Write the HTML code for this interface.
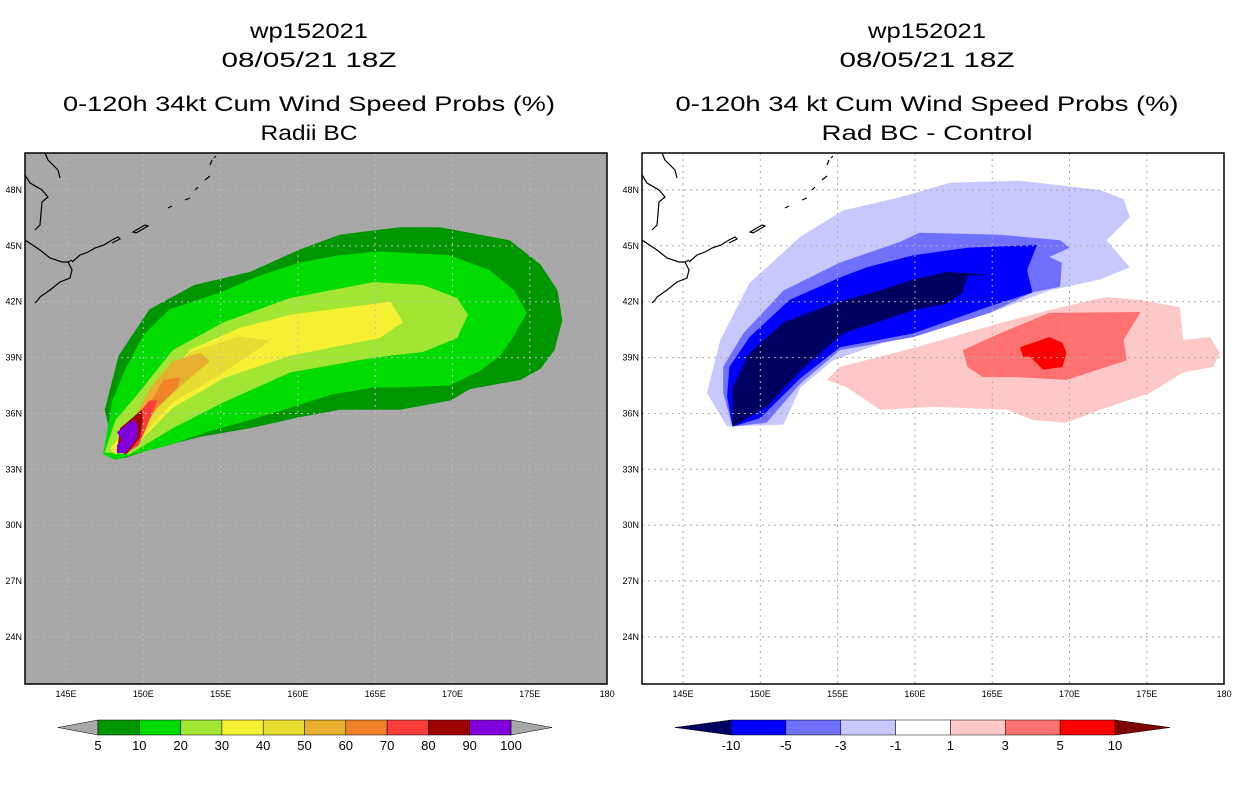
<!DOCTYPE html>
<html><head><meta charset="utf-8"><style>
body{margin:0;background:#fff;}
svg text{font-family:"Liberation Sans",sans-serif;}
</style></head><body>
<svg id="c" width="1236" height="800" xmlns="http://www.w3.org/2000/svg">
<defs>
<clipPath id="clipL"><rect x="25" y="153" width="582" height="531"/></clipPath>
<clipPath id="clipR"><rect x="642" y="153" width="582" height="531"/></clipPath>
</defs>
<g font-size="21" text-anchor="middle" fill="#000">
<text x="309" y="38" textLength="118" lengthAdjust="spacingAndGlyphs">wp152021</text>
<text x="309" y="67" textLength="175" lengthAdjust="spacingAndGlyphs">08/05/21 18Z</text>
<text x="309" y="111" textLength="492" lengthAdjust="spacingAndGlyphs">0-120h 34kt Cum Wind Speed Probs (%)</text>
<text x="309" y="140" textLength="97" lengthAdjust="spacingAndGlyphs">Radii BC</text>
</g>
<g font-size="21" text-anchor="middle" fill="#000">
<text x="927" y="38" textLength="118" lengthAdjust="spacingAndGlyphs">wp152021</text>
<text x="927" y="67" textLength="175" lengthAdjust="spacingAndGlyphs">08/05/21 18Z</text>
<text x="927" y="111" textLength="503" lengthAdjust="spacingAndGlyphs">0-120h 34 kt Cum Wind Speed Probs (%)</text>
<text x="927" y="140" textLength="211" lengthAdjust="spacingAndGlyphs">Rad BC - Control</text>
</g>
<rect x="25" y="153" width="582" height="531" fill="#a8a8a8"/>
<rect x="642" y="153" width="582" height="531" fill="#fff"/>
<g id="gL" clip-path="url(#clipL)"></g>
<g id="gR" clip-path="url(#clipR)"></g>
<g id="axes"></g>
<g id="cbar"></g>
</svg>
<script>
const lonTicks=[145,150,155,160,165,170,175,180];
const lonLabels=["145E","150E","155E","160E","165E","170E","175E","180"];
const latTicks=[24,27,30,33,36,39,42,45,48];
const latLabels=["24N","27N","30N","33N","36N","39N","42N","45N","48N"];
const leftLevels=["5","10","20","30","40","50","60","70","80","90","100"];
const leftColors=["#009600","#00dc00","#a0e632","#f5f032","#e6dc32","#e6af2d","#f08228","#fa3c3c","#a00000","#8200dc"];
const rightLevels=["-10","-5","-3","-1","1","3","5","10"];
const rightColors=["#0000ff","#7070ff","#c8c8ff","#ffffff","#ffc8c8","#ff7070","#ff0000"];
const leftContours=[
 [[148.2,33.7],[147.5,36.2],[148.4,39.1],[150.4,41.6],[153.3,42.9],[156.9,43.6],[160.1,44.8],[162.7,45.6],[166.6,46.0],[169.2,46.0],[173.7,45.3],[175.7,44.0],[176.8,42.6],[177.1,41.0],[176.6,39.4],[175.7,38.4],[174.4,37.8],[171.1,37.3],[169.9,36.7],[166.6,36.2],[162.7,36.2],[160.1,35.8],[156.9,35.2],[153.7,34.75],[150.4,34.05],[148.8,33.6]],
 [[147.4,33.8],[148.0,36.7],[148.8,38.3],[150.0,40.2],[151.7,41.6],[155.0,42.5],[157.5,43.4],[160.1,44.1],[162.7,44.5],[165.3,44.7],[169.8,44.5],[172.4,43.7],[174.0,42.6],[174.8,41.4],[174.0,40.2],[173.1,39.1],[171.8,38.3],[169.8,37.5],[166.6,37.4],[164.9,37.4],[162.1,37.0],[159.5,36.3],[156.9,35.65],[154.1,35.0],[151.7,34.3],[149.8,33.9],[148.2,33.5]],
 [[147.5,33.9],[148.2,35.65],[149.6,37.0],[151.9,39.4],[155.2,40.9],[159.5,42.2],[164.9,43.06],[168.1,42.9],[170.3,42.2],[171.0,41.3],[170.3,40.05],[168.1,39.3],[164.9,39.0],[159.5,38.2],[155.2,36.6],[151.9,35.2],[149.1,33.8]],
 [[147.85,34.1],[149.8,36.1],[153.0,39.4],[156.25,40.6],[159.5,41.3],[166.0,42.0],[166.8,40.9],[165.3,40.05],[159.5,39.1],[155.2,37.9],[151.9,36.3],[149.3,34.1],[148.2,33.8]],
 [[148.2,34.0],[150.4,36.7],[153.0,39.3],[156.25,40.15],[158.2,39.9],[155.2,38.2],[151.9,36.6],[149.6,34.5],[148.4,33.8]],
 [[148.4,34.1],[150.4,37.3],[151.9,38.8],[153.7,39.25],[154.3,38.8],[153.0,37.9],[150.9,36.3],[149.6,34.85],[148.6,33.9]],
 [[148.5,34.3],[149.8,35.65],[151.3,37.8],[152.4,37.95],[152.2,37.4],[150.9,36.3],[149.8,34.95],[148.8,33.9]],
 [[148.4,34.1],[149.1,35.4],[150.4,36.7],[150.9,36.7],[150.4,35.65],[149.7,34.3],[148.8,33.8]],
 [[148.3,34.0],[148.5,35.2],[149.9,36.2],[149.95,35.65],[149.8,34.7],[148.9,33.8]],
 [[148.3,35.0],[149.3,35.65],[149.65,35.4],[149.6,34.7],[148.9,33.9],[148.3,33.85],[148.3,34.3],[148.6,34.55]]
];
const leftContourColors=["#009600","#00dc00","#a0e632","#f5f032","#e6dc32","#e6af2d","#f08228","#fa3c3c","#a00000","#8200dc"];
const rightContours=[
 [[146.55,37.1],[147.85,35.3],[151.5,35.4],[152.6,37.4],[154.7,38.85],[159.0,40.1],[164.85,41.4],[168.7,42.6],[172.0,43.2],[173.9,43.85],[172.4,45.3],[173.9,46.55],[173.5,47.5],[172.0,48.0],[166.8,48.5],[162.3,48.4],[159.0,47.6],[155.35,46.9],[152.6,45.5],[149.3,43.0],[147.4,39.9]],
 [[147.6,37.1],[148.2,35.3],[150.4,35.5],[152.6,37.6],[155.15,39.4],[159.9,40.1],[164.85,41.4],[167.6,42.5],[169.4,42.8],[169.5,44.1],[168.7,44.4],[170.0,44.9],[169.4,45.3],[165.5,45.6],[160.3,45.7],[159.0,45.2],[155.15,44.1],[151.5,42.6],[148.9,40.3],[147.6,38.5]],
 [[147.85,36.9],[148.2,35.3],[150.0,35.75],[152.6,37.9],[155.15,39.55],[159.9,40.3],[164.65,41.7],[167.6,42.5],[167.25,43.7],[167.9,45.05],[163.4,44.9],[159.9,44.5],[156.9,43.85],[155.15,43.3],[151.9,42.1],[149.3,40.1],[148.0,38.5]],
 [[148.2,35.3],[150.4,36.35],[152.6,38.3],[155.35,40.3],[159.9,41.55],[162.1,41.9],[163.1,42.5],[163.4,43.4],[164.85,43.45],[162.1,43.6],[159.9,43.2],[157.3,42.5],[154.7,41.9],[151.5,40.9],[149.3,39.25],[148.2,37.4]],
 [[154.3,37.8],[155.15,38.5],[160.1,39.55],[165.5,40.85],[168.7,41.55],[171.5,42.1],[172.4,42.25],[174.6,42.1],[177.15,41.7],[177.35,39.95],[179.1,40.1],[179.7,39.25],[179.3,38.5],[177.35,38.2],[175.2,37.1],[172.0,36.2],[169.8,35.5],[167.6,35.65],[165.95,36.2],[161.2,36.35],[157.75,36.2],[155.6,37.4]],
 [[163.1,39.4],[165.5,40.3],[168.7,41.4],[174.6,41.45],[173.5,39.95],[173.7,38.85],[169.8,37.8],[166.6,37.95],[164.4,37.95],[163.4,38.5]],
 [[166.8,39.55],[168.7,40.1],[169.55,39.8],[169.8,39.25],[169.55,38.5],[168.3,38.35],[167.45,39.05],[167.0,39.05]]
];
const rightContourColors=["#c8c8ff","#7070ff","#0000ff","#000060","#ffc8c8","#ff7070","#ff0000"];

const NS="http://www.w3.org/2000/svg";
const pxPerLon=15.46,pxPerLat=18.62;
function xL(lon){return 66+(lon-145)*pxPerLon;}
function xR(lon){return 683+(lon-145)*pxPerLon;}
function yM(lat){return 190+(48-lat)*pxPerLat;}
function mk(tag,attrs,parent){const e=document.createElementNS(NS,tag);for(const k in attrs)e.setAttribute(k,attrs[k]);parent.appendChild(e);return e;}
const gL=document.getElementById('gL'),gR=document.getElementById('gR'),ax=document.getElementById('axes'),cb=document.getElementById('cbar');
function poly(parent,pts,xf,color,i,prefix){
 const p=mk('polygon',{points:pts.map(q=>xf(q[0]).toFixed(1)+','+yM(q[1]).toFixed(1)).join(' '),fill:color},parent);
 
 
}
leftContours.forEach((c,i)=>poly(gL,c,xL,leftContourColors[i],i,'left'));
rightContours.forEach((c,i)=>poly(gR,c,xR,rightContourColors[i],i,'right'));
[[gL,xL,25,'#bdbdbd'],[gR,xR,642,'#aaaaaa']].forEach(([g,xf,x0,col])=>{
 lonTicks.forEach(l=>{const ln=mk('line',{x1:xf(l),x2:xf(l),y1:153,y2:684,stroke:col,'stroke-dasharray':'2,4'},g);
  
  });
 latTicks.forEach(l=>{const ln=mk('line',{x1:x0,x2:x0+582,y1:yM(l),y2:yM(l),stroke:col,'stroke-dasharray':'2,4'},g);
  
  });
});
const coast="M45,153 L48,160 L58,170 L60,178 M25,175 L30,183 L42,190 L48,197 L42,202 L40,225 L35,230 M25,240 L40,250 L50,258 L62,262 L68,262 L72,260 M68,262 L72,270 L70,278 L60,282 L50,290 L40,297 L38,300 L35,303 M72,262 L80,255 L88,252 L95,248 L104,245 L112,240 L118,237 L120,239 L112,243 M133,232 L145,225 L148,226 L136,233 Z M168,208 L172,206 M185,200 L190,198 M195,190 L198,187 M205,180 L210,176 M210,165 L212,160 M214,158 L216,156";
[[gL,0],[gR,617]].forEach(([g,dx])=>{const p=mk('path',{d:coast,fill:'none',stroke:'#000','stroke-width':1.2,transform:'translate('+dx+',0)'},g);
 
 });
[[25,xL],[642,xR]].forEach(([x0,xf])=>{
 const f=mk('rect',{x:x0,y:153,width:582,height:531,fill:'none',stroke:'#000','stroke-width':1.5},ax);
 
 
 lonTicks.forEach((l,i)=>{const t=mk('text',{x:xf(l),y:697,'font-size':9,'text-anchor':'middle'},ax);t.textContent=lonLabels[i];
  
  });
 latTicks.forEach((l,i)=>{const t=mk('text',{x:x0-3,y:yM(l)+3,'font-size':9,'text-anchor':'end'},ax);t.textContent=latLabels[i];
  
  });
});
function colorbar(x0,x1,leftTri,rightTri,colors,levels,tl,tr,prefix){
 const n=colors.length,w=(x1-x0)/n,y0=720,h=15;
 const a=mk('polygon',{points:`${tl},${y0+h/2} ${x0},${y0} ${x0},${y0+h}`,fill:leftTri,stroke:'#000','stroke-width':0.5},cb);
 
 
 const b=mk('polygon',{points:`${tr},${y0+h/2} ${x1},${y0} ${x1},${y0+h}`,fill:rightTri,stroke:'#000','stroke-width':0.5},cb);
 
 
 colors.forEach((c,i)=>{const r=mk('rect',{x:x0+i*w,y:y0,width:w,height:h,fill:c,stroke:'#000','stroke-width':0.5},cb);
  
  });
 levels.forEach((s,i)=>{const t=mk('text',{x:x0+i*w,y:750,'font-size':13,'text-anchor':'middle'},cb);t.textContent=s;
  
  });
}
colorbar(98,511,'#a8a8a8','#a8a8a8',leftColors,leftLevels,58,552,'left');
colorbar(731,1115,'#000060','#800000',rightColors,rightLevels,675,1170,'right');
</script>
</body></html>
